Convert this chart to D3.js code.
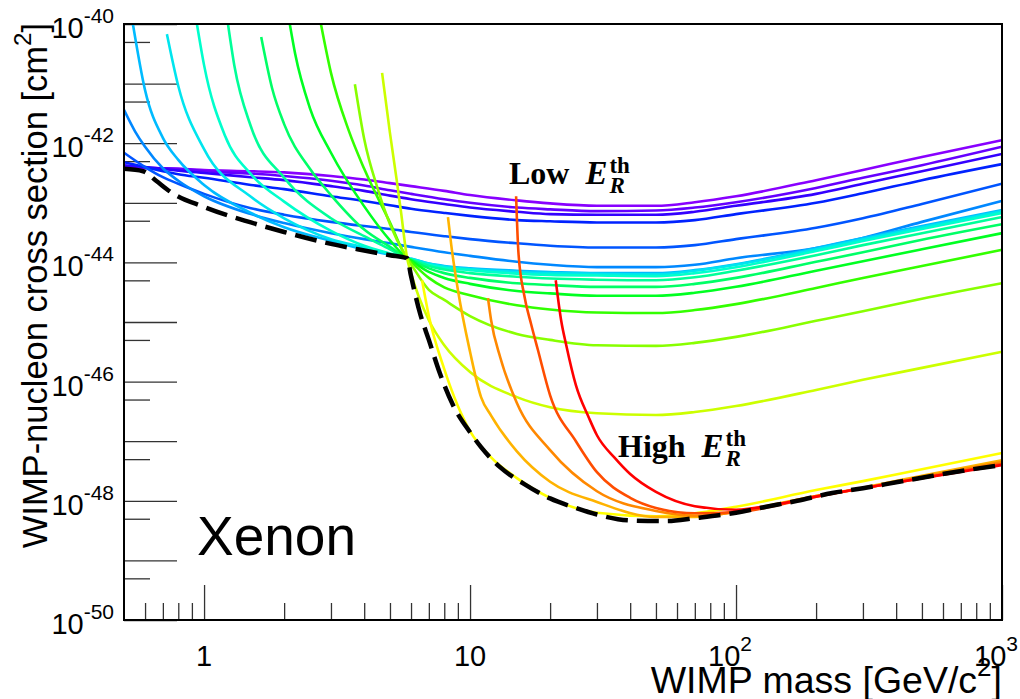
<!DOCTYPE html>
<html>
<head>
<meta charset="utf-8">
<script src="https://cdn.jsdelivr.net/npm/d3@7"></script>
<style>
  body { margin: 0; background: #fff; }
  svg { display: block; font-family: "Liberation Sans", Arial, Helvetica, sans-serif; }
</style>
</head>
<body>
<svg id="svg1" width="1020" height="699"></svg>
<script>
// WIMP mass [GeV/c^2] and log10 of the cross section [cm^2]

// low threshold curves share one mass grid
var massLow = [0.5,0.6,0.7,0.8,1,1.5,2,3,4,5,6,8,10,15,20,30,50,70,100,200,300,500,1000];
var logPurple = [-42.42,-42.42,-42.43,-42.43,-42.45,-42.47,-42.49,-42.55,-42.61,-42.67,-42.72,-42.80,-42.87,-42.96,-43.01,-43.05,-43.05,-42.99,-42.89,-42.62,-42.45,-42.23,-41.95];
var logViolet = [-42.39,-42.41,-42.42,-42.43,-42.47,-42.51,-42.55,-42.63,-42.71,-42.79,-42.85,-42.94,-43.00,-43.08,-43.11,-43.14,-43.13,-43.08,-42.99,-42.75,-42.58,-42.37,-42.06];
var logIndigo = [-42.37,-42.40,-42.43,-42.46,-42.50,-42.57,-42.62,-42.72,-42.80,-42.88,-42.94,-43.02,-43.08,-43.15,-43.19,-43.20,-43.20,-43.15,-43.05,-42.85,-42.68,-42.47,-42.18];
var logBlue = [-42.32,-42.40,-42.47,-42.52,-42.58,-42.70,-42.77,-42.89,-42.97,-43.04,-43.10,-43.17,-43.22,-43.29,-43.31,-43.33,-43.33,-43.29,-43.19,-43.00,-42.84,-42.62,-42.35];
var logBlue2 = [-42.16,-42.40,-42.57,-42.68,-42.85,-43.09,-43.20,-43.32,-43.39,-43.44,-43.49,-43.56,-43.61,-43.68,-43.72,-43.75,-43.75,-43.71,-43.61,-43.42,-43.26,-43.02,-42.68];

var massBlue3 = [0.5,0.55,0.6,0.7,0.8,1,1.5,2,3,4,5,6,8,10,15,20,30,50,70,100,200,300,500,1000];
var logBlue3 = [-41.44,-41.80,-42.06,-42.42,-42.63,-42.89,-43.19,-43.34,-43.51,-43.61,-43.68,-43.74,-43.83,-43.89,-43.99,-44.04,-44.08,-44.08,-44.04,-43.93,-43.76,-43.59,-43.32,-42.97];

// middle thresholds: steep rise at low mass, all cross near 5.8 GeV
var massSky = [0.54,0.6,0.7,0.8,1,1.5,2,3,4,5,5.8,6,7,8,10,15,20,30,50,70,100,200,300,500,1000];
var logSky = [-40.00,-41.11,-41.91,-42.28,-42.70,-43.17,-43.41,-43.64,-43.78,-43.87,-43.93,-43.94,-44.02,-44.06,-44.10,-44.14,-44.16,-44.18,-44.18,-44.13,-44.03,-43.76,-43.59,-43.39,-43.12];

var massCyan = [0.725,0.8,1,1.5,2,3,4,5,5.8,6,7,8,10,15,20,30,50,70,100,200,300,500,1000];
var logCyan = [-40.17,-41.04,-42.10,-42.90,-43.26,-43.61,-43.75,-43.86,-43.93,-43.94,-44.02,-44.07,-44.11,-44.16,-44.18,-44.19,-44.20,-44.14,-44.04,-43.78,-43.61,-43.41,-43.14];

var massAqua = [0.94,1,1.2,1.5,2,3,4,5,5.8,6,7,8,10,15,20,30,50,70,100,200,300,500,1000];
var logAqua = [-40.00,-40.69,-41.88,-42.52,-42.98,-43.47,-43.72,-43.85,-43.93,-43.95,-44.04,-44.09,-44.13,-44.19,-44.21,-44.22,-44.23,-44.18,-44.08,-43.81,-43.64,-43.44,-43.17];

var massSpring = [1.23,1.3,1.5,2,3,4,5,5.8,6,7,8,10,15,20,30,50,70,100,200,300,500,1000];
var logSpring = [-40.00,-40.70,-41.72,-42.58,-43.26,-43.56,-43.78,-43.93,-43.95,-44.06,-44.12,-44.18,-44.24,-44.27,-44.29,-44.30,-44.25,-44.14,-43.88,-43.71,-43.51,-43.24];

var massGreen1 = [1.64,1.8,2,2.5,3,4,5,5.8,6,7,8,10,15,20,30,50,70,100,200,300,500,1000];
var logGreen1 = [-40.22,-41.07,-41.68,-42.43,-42.87,-43.45,-43.74,-43.93,-43.96,-44.10,-44.18,-44.26,-44.35,-44.38,-44.41,-44.41,-44.36,-44.26,-43.99,-43.83,-43.62,-43.36];

var massGreen2 = [2.1,2.2,2.5,3,4,5,5.8,6,7,8,10,15,20,30,50,70,100,200,300,500,1000];
var logGreen2 = [-40.00,-40.50,-41.41,-42.16,-43.06,-43.63,-43.93,-43.97,-44.16,-44.26,-44.36,-44.48,-44.52,-44.56,-44.56,-44.51,-44.41,-44.14,-43.98,-43.78,-43.51];

var massGreen3 = [2.75,3,3.5,4,5,5.8,6,7,8,10,15,20,30,50,70,100,200,300,500,1000];
var logGreen3 = [-40.00,-40.82,-41.79,-42.43,-43.33,-43.93,-43.99,-44.26,-44.42,-44.55,-44.72,-44.79,-44.84,-44.85,-44.80,-44.70,-44.43,-44.26,-44.06,-43.79];

var massLime = [3.69,4,4.5,5,5.8,6,7,8,10,15,20,30,50,70,100,200,300,500,1000];
var logLime = [-41.01,-41.93,-42.77,-43.36,-43.93,-44.03,-44.46,-44.63,-44.90,-45.20,-45.30,-45.39,-45.40,-45.35,-45.25,-44.98,-44.82,-44.61,-44.35];

var massChartreuse = [4.67,5,5.3,5.5,5.8,6,7,8,10,15,20,30,50,70,100,200,300,500,1000];
var logChartreuse = [-40.82,-41.83,-42.62,-43.15,-43.93,-44.18,-44.97,-45.39,-45.84,-46.26,-46.43,-46.53,-46.56,-46.51,-46.41,-46.14,-45.97,-45.77,-45.50];

// high thresholds
var massYellow = [6.6,7,8,10,12,15,20,30,50,70,100,200,300,500,1000];
var logYellow = [-44.30,-44.90,-45.79,-46.83,-47.27,-47.62,-47.95,-48.20,-48.26,-48.21,-48.10,-47.82,-47.67,-47.47,-47.20];

var massAmber = [8.26,8.5,9,10,11,12,15,20,30,50,70,100,200,300,500,1000];
var logAmber = [-43.24,-43.71,-44.46,-45.50,-46.26,-46.57,-47.17,-47.68,-48.02,-48.27,-48.27,-48.18,-47.92,-47.78,-47.58,-47.32];

var massOrange = [11.68,12,13,15,20,30,50,70,100,200,300,500,1000];
var logOrange = [-44.60,-44.97,-45.60,-46.36,-47.15,-47.84,-48.17,-48.25,-48.19,-47.92,-47.79,-47.60,-47.35];

var massOrangeRed = [14.9,15.2,16,17,18,20,25,30,40,50,70,100,200,300,500,1000];
var logOrangeRed = [-42.89,-43.83,-44.56,-45.05,-45.47,-46.23,-47.00,-47.52,-47.95,-48.12,-48.21,-48.19,-47.93,-47.79,-47.62,-47.38];

var massRed = [21,22,23,25,28,30,35,40,50,70,100,150,200,300,500,1000];
var logRed = [-44.30,-44.97,-45.39,-46.06,-46.61,-46.90,-47.28,-47.55,-47.85,-48.09,-48.15,-48.04,-47.93,-47.79,-47.62,-47.40];

// best limit over all thresholds (black dashed)
var massEnvelope = [0.5,0.59,0.66,0.75,1,1.5,2,3,4,5,5.8,6,6.5,7,7.7,8.6,10,11,13,16,20,25,30,40,55,70,100,130,170,230,300,400,550,750,1000];
var logEnvelope = [-42.43,-42.47,-42.63,-42.82,-43.07,-43.33,-43.49,-43.69,-43.80,-43.88,-43.93,-44.23,-44.87,-45.30,-45.86,-46.38,-46.85,-47.10,-47.44,-47.72,-47.96,-48.12,-48.23,-48.33,-48.34,-48.29,-48.20,-48.10,-48.00,-47.87,-47.79,-47.69,-47.58,-47.48,-47.40];

var curveColors = ['#8800ff','#6600ff','#3300ff','#0022ff','#0055ff','#0088ff','#00bbff','#00e5ee','#00ffcc','#00ff99',
                   '#00ff66','#00ff22','#33ff00','#88ff00','#ccff00','#ffff00','#ffb300','#ff8800','#ff4d00','#ff0000'];

var yDecades = [-50,-49,-48,-47,-46,-45,-44,-43,-42,-41,-40];
var yLabelled = [-50,-48,-46,-44,-42,-40];
var xMajor = [1, 10, 100, 1000];
var xMinor = [0.6,0.7,0.8,0.9,2,3,4,5,6,7,8,9,20,30,40,50,60,70,80,90,200,300,400,500,600,700,800,900];
var xLabels = [{v: 1, base: '1', sup: ''}, {v: 10, base: '10', sup: ''}, {v: 100, base: '10', sup: '2'}, {v: 1000, base: '10', sup: '3'}];

// ---------------------------------------------------------------
var plotLeft = 124, plotRight = 1002, plotTop = 24, plotBottom = 620;

var svg = d3.select('#svg1');

var x = d3.scaleLog().domain([0.5, 1000]).range([plotLeft, plotRight]);
var y = d3.scaleLog().domain([1e-50, 1e-40]).range([plotBottom, plotTop]);

svg.append('defs').append('clipPath').attr('id', 'plotClip')
  .append('rect')
  .attr('x', plotLeft).attr('y', plotTop)
  .attr('width', plotRight - plotLeft).attr('height', plotBottom - plotTop);

var series = [
  [massLow, logPurple], [massLow, logViolet], [massLow, logIndigo], [massLow, logBlue], [massLow, logBlue2],
  [massBlue3, logBlue3], [massSky, logSky], [massCyan, logCyan], [massAqua, logAqua], [massSpring, logSpring],
  [massGreen1, logGreen1], [massGreen2, logGreen2], [massGreen3, logGreen3], [massLime, logLime], [massChartreuse, logChartreuse],
  [massYellow, logYellow], [massAmber, logAmber], [massOrange, logOrange], [massOrangeRed, logOrangeRed], [massRed, logRed]
].map(function(s, i){
  return {
    color: curveColors[i],
    points: s[0].map(function(m, j){ return [m, Math.pow(10, s[1][j])]; })
  };
});

var envelope = massEnvelope.map(function(m, j){ return [m, Math.pow(10, logEnvelope[j])]; });

var line = d3.line()
  .x(function(d){ return x(d[0]); })
  .y(function(d){ return y(d[1]); })
  .curve(d3.curveMonotoneX);

// ticks (ROOT style, pointing into the frame)
var tickColor = '#333';

var yMajorAxis = svg.append('g')
  .attr('transform', 'translate(' + plotLeft + ',0)')
  .call(d3.axisLeft(y)
    .tickValues(yDecades.map(function(p){ return Math.pow(10, p); }))
    .tickSize(-53).tickSizeOuter(0).tickFormat(''));

var yMinorAxis = svg.append('g')
  .attr('transform', 'translate(' + plotLeft + ',0)')
  .call(d3.axisLeft(y)
    .tickValues(yDecades.slice(0, -1).map(function(p){ return 5 * Math.pow(10, p); }))
    .tickSize(-26).tickSizeOuter(0).tickFormat(''));

var xMajorAxis = svg.append('g')
  .attr('transform', 'translate(0,' + plotBottom + ')')
  .call(d3.axisBottom(x).tickValues(xMajor).tickSize(-35).tickSizeOuter(0).tickFormat(''));

var xMinorAxis = svg.append('g')
  .attr('transform', 'translate(0,' + plotBottom + ')')
  .call(d3.axisBottom(x).tickValues(xMinor).tickSize(-17).tickSizeOuter(0).tickFormat(''));

[yMajorAxis, yMinorAxis, xMajorAxis, xMinorAxis].forEach(function(g){
  g.select('.domain').remove();
  g.selectAll('.tick line').attr('stroke', tickColor).attr('stroke-width', 1.3);
});

// curves
var plot = svg.append('g').attr('clip-path', 'url(#plotClip)');

plot.selectAll('path.limit')
  .data(series)
  .enter()
  .append('path')
  .attr('class', 'limit')
  .attr('d', function(d){ return line(d.points); })
  .attr('fill', 'none')
  .attr('stroke', function(d){ return d.color; })
  .attr('stroke-width', 2.6)
  .attr('stroke-linejoin', 'round');

plot.append('path')
  .attr('d', line(envelope))
  .attr('fill', 'none')
  .attr('stroke', '#000')
  .attr('stroke-width', 4.5)
  .attr('stroke-dasharray', '22,9');

// frame
svg.append('rect')
  .attr('x', plotLeft).attr('y', plotTop)
  .attr('width', plotRight - plotLeft).attr('height', plotBottom - plotTop)
  .attr('fill', 'none')
  .attr('stroke', '#000')
  .attr('stroke-width', 2);

// y tick labels 10^n
var yLab = svg.selectAll('text.ylab')
  .data(yLabelled)
  .enter()
  .append('text')
  .attr('class', 'ylab')
  .attr('x', plotLeft - 10)
  .attr('y', function(p){ return y(Math.pow(10, p)) + 14; })
  .attr('text-anchor', 'end')
  .attr('fill', '#000');
yLab.append('tspan').attr('font-size', 29).text('10');
yLab.append('tspan').attr('font-size', 21).attr('dy', -15).text(function(p){ return '-' + Math.abs(p); });

// x tick labels
var xLab = svg.selectAll('text.xlab')
  .data(xLabels)
  .enter()
  .append('text')
  .attr('class', 'xlab')
  .attr('x', function(d){ return x(d.v) - (d.sup ? 6 : 0); })
  .attr('y', 666)
  .attr('text-anchor', 'middle')
  .attr('fill', '#000');
xLab.append('tspan').attr('font-size', 29).text(function(d){ return d.base; });
xLab.append('tspan').attr('font-size', 21).attr('dy', -15).text(function(d){ return d.sup; });

// axis titles
var xTitle = svg.append('text')
  .attr('x', plotRight)
  .attr('y', 693)
  .attr('text-anchor', 'end')
  .attr('font-size', 37.5);
xTitle.append('tspan').text('WIMP mass [GeV/c');
xTitle.append('tspan').attr('font-size', 26).attr('dy', -17).text('2');
xTitle.append('tspan').attr('dy', 17).text(']');

var yTitle = svg.append('text')
  .attr('transform', 'translate(47,' + 23 + ') rotate(-90)')
  .attr('text-anchor', 'end')
  .attr('font-size', 34.5);
yTitle.append('tspan').text('WIMP-nucleon cross section [cm');
yTitle.append('tspan').attr('font-size', 24).attr('dy', -16).text('2');
yTitle.append('tspan').attr('dy', 16).text(']');

// annotations
svg.append('text')
  .attr('x', 197).attr('y', 555)
  .attr('font-size', 55)
  .text('Xenon');

function thresholdLabel(word, x0, y0){
  var g = svg.append('g').attr('font-family', '"Liberation Serif", "Times New Roman", serif').attr('font-weight', 'bold');
  var w = g.append('text').attr('x', x0).attr('y', y0).attr('font-size', 32).text(word);
  var wEnd = x0 + w.node().getComputedTextLength();
  g.append('text').attr('x', wEnd + 16).attr('y', y0).attr('font-size', 33).attr('font-style', 'italic').text('E');
  g.append('text').attr('x', wEnd + 40).attr('y', y0 - 11).attr('font-size', 23).text('th');
  g.append('text').attr('x', wEnd + 40).attr('y', y0 + 9).attr('font-size', 23).attr('font-style', 'italic').text('R');
}
thresholdLabel('Low', 509, 184);
thresholdLabel('High', 618, 457);
</script>
</body>
</html>
